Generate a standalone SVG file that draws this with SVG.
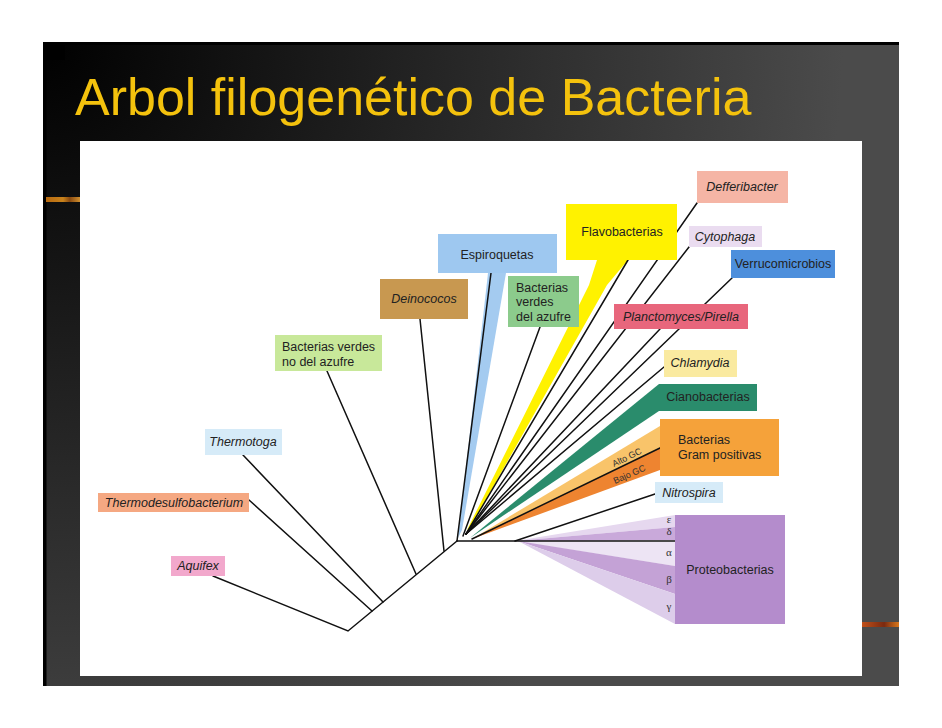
<svg xmlns="http://www.w3.org/2000/svg" width="942" height="728" viewBox="0 0 942 728">
<defs>
<radialGradient id="bg" gradientUnits="userSpaceOnUse" cx="43" cy="42" r="800">
<stop offset="0" stop-color="#000000"/>
<stop offset="1" stop-color="#4b4b4b"/>
</radialGradient>
<linearGradient id="barL" x1="0" y1="0" x2="1" y2="0">
<stop offset="0" stop-color="#b86a10"/>
<stop offset="0.5" stop-color="#c8821c"/>
<stop offset="0.7" stop-color="#8a4a10"/>
<stop offset="1" stop-color="#d09030"/>
</linearGradient>
<linearGradient id="barR" x1="0" y1="0" x2="1" y2="0">
<stop offset="0" stop-color="#c0501a"/>
<stop offset="0.6" stop-color="#7a2a10"/>
<stop offset="1" stop-color="#d8781c"/>
</linearGradient>
<style>
.t{font-family:"Liberation Sans",Arial,sans-serif;font-size:12.5px;fill:#222}
.i{font-style:italic}
.c{text-anchor:middle}
.g{font-family:"Liberation Serif","Times New Roman",serif;font-size:11px;fill:#333;text-anchor:middle}
.s{font-family:"Liberation Sans",Arial,sans-serif;font-size:9px;fill:#333}
.ln{stroke:#111;stroke-width:1.5;fill:none;stroke-linecap:round}
</style>
</defs>
<rect width="942" height="728" fill="#ffffff"/>
<rect x="43" y="42" width="856" height="644" fill="url(#bg)"/>
<rect x="43" y="42" width="856" height="3" fill="#000"/>
<rect x="43" y="42" width="3.5" height="644" fill="#000"/>
<rect x="43" y="42" width="22" height="18" fill="#000"/>
<rect x="46" y="197" width="34" height="5" fill="url(#barL)"/>
<rect x="862" y="622" width="37" height="5" fill="url(#barR)"/>
<text x="75" y="115" font-family="'Liberation Sans',Arial,sans-serif" font-size="52" fill="#F4C20D">Arbol filogenético de Bacteria</text>
<rect x="80" y="141" width="782" height="535" fill="#ffffff"/>

<g id="connectors">
<polygon points="488,273 506,273 462,530 458,538" fill="#a4cbf0"/>
<polygon points="597,260 628,260 607,285 470,528 467,530 589,285" fill="#fff200"/>
<polygon points="659,384 659,411 470,538" fill="#2a8c6c"/>
<polygon points="660,426 660,448 472,539" fill="#f9c46a"/>
<polygon points="660,448 660,470 472,539" fill="#ee8430"/>
<polygon points="515,541 675,515 675,527" fill="#e6d8ef"/>
<polygon points="515,541 675,527 675,540" fill="#c9a9da"/>
<polygon points="515,541 675,542 675,566" fill="#ede4f4"/>
<polygon points="518,541 675,566 675,594" fill="#c4a2d6"/>
<polygon points="518,541 675,594 675,624" fill="#ddcdea"/>
<path class="ln" d="M213,576 L348,631 L457,541"/>
<path class="ln" d="M249,500 L372,611"/>
<path class="ln" d="M243,455 L383,602"/>
<path class="ln" d="M327,371 L416,574"/>
<path class="ln" d="M420,319 L444,551"/>
<path class="ln" d="M491,273 L457,541"/>
<path class="ln" d="M540,327 L463,536"/>
<path class="ln" d="M628,260 L466,534"/>
<path class="ln" d="M697,203 L466,534"/>
<path class="ln" d="M689,247 L466,534"/>
<path class="ln" d="M660,329 L466,534"/>
<path class="ln" d="M732,278 L466,534"/>
<path class="ln" d="M664,367 L466,534"/>
<path class="ln" d="M660,448 L472,539"/>
<path class="ln" d="M515,541 L655,494"/>
<path class="ln" d="M457,541 L675,541" stroke-width="2"/>
</g>

<g id="aquifex"><rect x="171" y="556" width="54" height="20" fill="#f2a8cc"/><text class="t i c" x="198" y="570">Aquifex</text></g>
<g id="thermodesulfobacterium"><rect x="98" y="493" width="151" height="19" fill="#f5a882"/><text class="t i c" x="174" y="506.5">Thermodesulfobacterium</text></g>
<g id="thermotoga"><rect x="205" y="429" width="77" height="26" fill="#d6ebf8"/><text class="t i c" x="243" y="446">Thermotoga</text></g>
<g id="bv-no-azufre"><rect x="275" y="335" width="107" height="36" fill="#c8e89a"/><text class="t" x="282" y="351">Bacterias verdes</text><text class="t" x="282" y="366">no del azufre</text></g>
<g id="deinococos"><rect x="380" y="279" width="88" height="40" fill="#c89850"/><text class="t i c" x="424" y="303">Deinococos</text></g>
<g id="espiroquetas"><rect x="438" y="234" width="119" height="39" fill="#9ec8f0"/><text class="t c" x="497" y="259">Espiroquetas</text></g>
<g id="bv-azufre"><rect x="508" y="276" width="71" height="51" fill="#8ccb8c"/><text class="t" x="516" y="292">Bacterias</text><text class="t" x="516" y="306">verdes</text><text class="t" x="516" y="321">del azufre</text></g>
<g id="flavobacterias"><rect x="566" y="204" width="111" height="56" fill="#fff200"/><text class="t c" x="622" y="236">Flavobacterias</text></g>
<g id="defferibacter"><rect x="697" y="171" width="91" height="32" fill="#f5b5a5"/><text class="t i c" x="742" y="191">Defferibacter</text></g>
<g id="cytophaga"><rect x="689" y="226" width="73" height="21" fill="#eadcf0"/><text class="t i c" x="725" y="241">Cytophaga</text></g>
<g id="verrucomicrobios"><rect x="731" y="250" width="104" height="28" fill="#4d8fdc"/><text class="t c" x="783" y="268">Verrucomicrobios</text></g>
<g id="planctomyces"><rect x="614" y="304" width="134" height="25" fill="#e8667c"/><text class="t i c" x="681" y="321">Planctomyces/Pirella</text></g>
<g id="chlamydia"><rect x="664" y="350" width="73" height="27" fill="#faeaa0"/><text class="t i c" x="700" y="367">Chlamydia</text></g>
<g id="cianobacterias"><rect x="659" y="384" width="98" height="27" fill="#2a8c6c"/><text class="t c" x="708" y="401">Cianobacterias</text></g>
<g id="gram-positivas"><rect x="660" y="419" width="119" height="57" fill="#f5a23a"/><text class="t" x="678" y="444">Bacterias</text><text class="t" x="678" y="459">Gram positivas</text>
<text class="s" transform="translate(614,467) rotate(-26)">Alto GC</text><text class="s" transform="translate(615,484) rotate(-24)">Bajo GC</text></g>
<g id="nitrospira"><rect x="655" y="482" width="68" height="21" fill="#d6ebf8"/><text class="t i c" x="689" y="497">Nitrospira</text></g>
<g id="proteobacterias"><rect x="675" y="515" width="110" height="109" fill="#b48ccc"/><text class="t c" x="730" y="574">Proteobacterias</text>
<text class="g" x="669" y="523">ε</text><text class="g" x="669" y="535">δ</text><text class="g" x="669" y="556">α</text><text class="g" x="669" y="583">β</text><text class="g" x="669" y="610">γ</text></g>
</svg>
